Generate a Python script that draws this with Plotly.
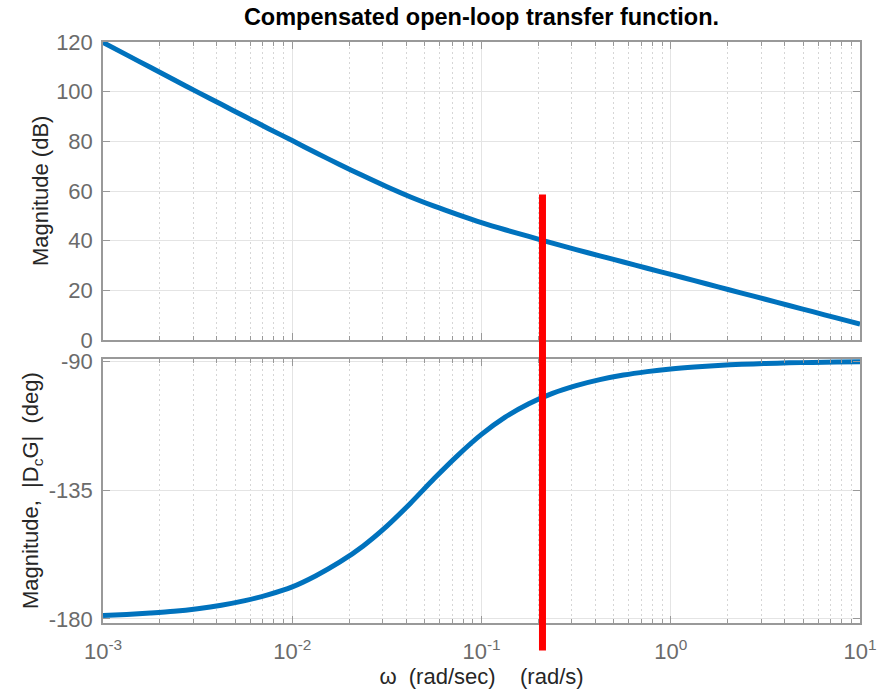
import plotly.graph_objects as go
from plotly.subplots import make_subplots

# Frequency grid (rad/s), eight points per decade from 1e-3 to 1e1
omega = [0.001, 0.001334, 0.001778, 0.002371, 0.003162, 0.004217, 0.005623, 0.007499,
         0.01, 0.01334, 0.01778, 0.02371, 0.03162, 0.04217, 0.05623, 0.07499,
         0.1, 0.1334, 0.1778, 0.2371, 0.3162, 0.4217, 0.5623, 0.7499,
         1.0, 1.334, 1.778, 2.371, 3.162, 4.217, 5.623, 7.499, 10.0]
# Compensated open-loop response D_c(s)G(s)
magnitude_db = [119.8, 114.8, 109.8, 104.8, 99.8, 94.9, 90.0, 85.1,
                80.3, 75.4, 70.7, 66.1, 61.7, 57.6, 53.9, 50.5,
                47.3, 44.4, 41.7, 39.0, 36.4, 33.9, 31.4, 28.9,
                26.4, 23.9, 21.4, 18.9, 16.4, 13.9, 11.4, 8.9, 6.4]
phase_deg = [-178.8, -178.4, -177.9, -177.3, -176.4, -175.2, -173.6, -171.5,
             -168.8, -164.9, -160.2, -154.5, -147.6, -139.6, -131.0, -122.9,
             -115.6, -109.6, -104.9, -101.3, -98.6, -96.5, -94.9, -93.7,
             -92.75, -92.06, -91.55, -91.16, -90.87, -90.65, -90.49, -90.37, -90.28]

# Crossover marker: frequency and vertical extent (top in dB, bottom in deg)
crossover_w = 0.21
marker_top_db = 58.6
marker_bottom_deg = -191.0

# Axis settings
x_range_log = [-3, 1]
x_tick_vals = [0.001, 0.01, 0.1, 1, 10]
x_tick_text = ["10<sup>-3</sup>", "10<sup>-2</sup>", "10<sup>-1</sup>",
               "10<sup>0</sup>", "10<sup>1</sup>"]
x_minor_vals = [m * 10.0 ** e for e in range(-3, 1) for m in range(2, 10)]
mag_range = [0, 120]
mag_ticks = [0, 20, 40, 60, 80, 100, 120]
mag_tick_text = ["0", "20", "40", "60", "80", "100", "120"]
phase_range = [-181.4, -89.3]
phase_ticks = [-180, -135, -90]
phase_tick_text = ["-180", "-135", "-90"]

FONT = "Liberation Sans, Arial, sans-serif"
BLUE = "#0072BD"
FRAME = "#999999"
GRID = "#e4e4e4"
MINOR_GRID = "#d6d6d6"
TICK_FONT = dict(family=FONT, size=22, color="#6b6b6b")
TITLE_FONT = dict(family=FONT, size=22, color="#262626")

W, H = 888, 691
M_L, M_R, M_T, M_B = 103, 28, 42, 68
plot_w = W - M_L - M_R
plot_h = H - M_T - M_B
top_domain = [(623 - 340) / plot_h, 1.0]
bot_domain = [0.0, (623 - 359) / plot_h]

fig = make_subplots(rows=2, cols=1, shared_xaxes=False, vertical_spacing=0.03)

fig.add_trace(go.Scatter(x=omega, y=magnitude_db, mode="lines",
                         line=dict(color=BLUE, width=5, shape="spline", smoothing=0.8),
                         showlegend=False, hoverinfo="skip"), row=1, col=1)
fig.add_trace(go.Scatter(x=omega, y=phase_deg, mode="lines",
                         line=dict(color=BLUE, width=5, shape="spline", smoothing=0.8),
                         showlegend=False, hoverinfo="skip"), row=2, col=1)

common_x = dict(
    type="log", range=x_range_log, tickvals=x_tick_vals, automargin=False,
    ticks="inside", ticklen=7, tickcolor=FRAME, tickwidth=1,
    showline=True, linecolor=FRAME, linewidth=1.5, mirror="allticks",
    showgrid=True, gridcolor=GRID, gridwidth=1, zeroline=False,
    minor=dict(tickvals=x_minor_vals, ticks="inside", ticklen=4, tickcolor=FRAME,
               showgrid=True, gridcolor=MINOR_GRID, griddash="2px,3px", gridwidth=1),
)
fig.update_xaxes(common_x, showticklabels=False, row=1, col=1)
fig.update_xaxes(common_x, ticktext=x_tick_text, tickfont=TICK_FONT, ticklabelstandoff=8,
                 title=dict(text="ω\u00a0\u00a0(rad/sec)\u00a0\u00a0\u00a0\u00a0(rad/s)",
                            font=TITLE_FONT, standoff=2),
                 row=2, col=1)

common_y = dict(
    automargin=False,
    ticks="inside", ticklen=7, tickcolor=FRAME, tickwidth=1,
    showline=True, linecolor=FRAME, linewidth=1.5, mirror="allticks",
    showgrid=True, gridcolor=GRID, gridwidth=1, zeroline=False,
    tickfont=TICK_FONT, ticklabelstandoff=4,
)
fig.update_yaxes(common_y, range=mag_range, tickvals=mag_ticks, ticktext=mag_tick_text,
                 domain=top_domain, row=1, col=1)
fig.update_yaxes(common_y, range=phase_range, tickvals=phase_ticks, ticktext=phase_tick_text,
                 domain=bot_domain, row=2, col=1)

# Y-axis titles, each just left of its own tick labels
for text, dom, x_px in [("Magnitude (dB)", top_domain, 40),
                        ("Magnitude,\u00a0\u00a0|D<sub>c</sub>G|\u00a0\u00a0(deg)", bot_domain, 32)]:
    fig.add_annotation(text=text, xref="paper", yref="paper",
                       x=(x_px - M_L) / plot_w, y=(dom[0] + dom[1]) / 2,
                       xanchor="center", yanchor="middle", textangle=-90,
                       showarrow=False, font=TITLE_FONT)


def to_paper(value, axis_range, domain):
    """Map a data value on a linear y axis to paper coordinates."""
    frac = (value - axis_range[0]) / (axis_range[1] - axis_range[0])
    return domain[0] + frac * (domain[1] - domain[0])


fig.add_shape(type="line", xref="x", yref="paper",
              x0=crossover_w, x1=crossover_w,
              y0=to_paper(marker_bottom_deg, phase_range, bot_domain),
              y1=to_paper(marker_top_db, mag_range, top_domain),
              line=dict(color="#FF0000", width=7), layer="above")

fig.update_layout(
    width=W, height=H,
    margin=dict(l=M_L, r=M_R, t=M_T, b=M_B, autoexpand=False),
    paper_bgcolor="white", plot_bgcolor="white",
    font=dict(family=FONT),
    title=dict(text="<b>Compensated open-loop transfer function.</b>",
               font=dict(family=FONT, size=23.5, color="#000000"),
               x=(M_L + plot_w / 2) / W, xanchor="center",
               y=1 - 17 / H, yanchor="middle"),
)

fig.write_html("out.html")
